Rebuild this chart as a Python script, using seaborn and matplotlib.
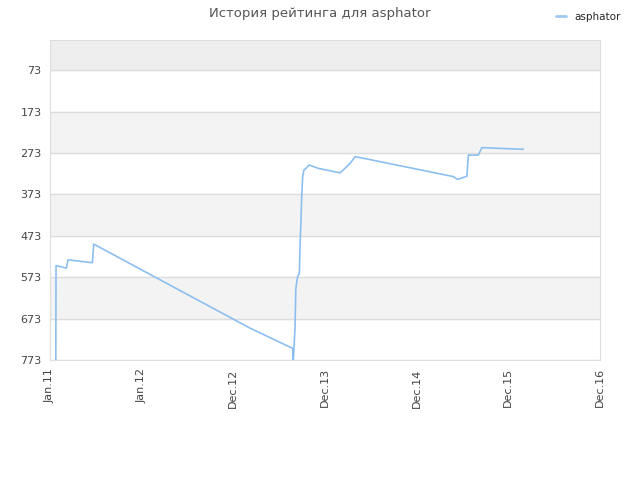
import matplotlib
matplotlib.use('Agg')
import matplotlib.pyplot as plt
import seaborn as sns
import pandas as pd
from matplotlib.lines import Line2D

# Daten
dates = ['2011-01-24', '2011-01-25', '2011-03-07', '2011-03-13', '2011-06-17',
         '2011-06-22', '2012-03-08', '2013-02-25', '2013-08-12',
         '2013-08-13', '2013-08-21', '2013-08-24', '2013-08-31', '2013-09-07',
         '2013-09-10', '2013-09-13', '2013-09-16', '2013-09-20', '2013-09-25',
         '2013-10-03', '2013-10-15', '2013-11-20', '2014-02-14', '2014-03-05',
         '2014-03-25', '2014-04-14', '2014-06-04', '2015-05-05', '2015-05-21',
         '2015-06-27', '2015-07-03', '2015-08-11', '2015-08-25', '2015-11-11',
         '2016-02-04']
rating = [800, 545, 551, 531, 538,
          493, 579, 696, 745,
          790, 693, 600, 572, 564,
          487, 443, 379, 330, 314,
          310, 302, 310, 321, 310,
          298, 282, 288, 330, 337,
          329, 278, 278, 260, 262,
          264]

y_ticks = [73, 173, 273, 373, 473, 573, 673, 773]
x_labels = ['Jan.11', 'Jan.12', 'Dec.12', 'Dec.13', 'Dec.14', 'Dec.15', 'Dec.16']

df = pd.DataFrame({'datum': pd.to_datetime(dates), 'rating': rating, 'spieler': 'asphator'})

sns.set_style('white')
fig = plt.figure(figsize=(6.4, 4.8), dpi=100)
ax = fig.add_axes([0.078, 0.25, 0.8595, 0.6667])

# Hintergrundstreifen
ax.axhspan(0, 73, color='#eeeeee', zorder=0)
for lo in [173, 373, 573]:
    ax.axhspan(lo, lo + 100, color='#f3f3f3', zorder=0)

sns.lineplot(data=df, x='datum', y='rating', hue='spieler', palette=['#8cbff0'],
             linewidth=1.2, ax=ax, legend=False, zorder=3)

ax.set_ylim(773, 0)
ax.set_yticks(y_ticks)
ax.set_yticklabels([str(t) for t in y_ticks], fontsize=8, color='#444444')
ax.yaxis.grid(True, color='#dddddd', linewidth=1)
ax.set_axisbelow(True)

x_start = pd.Timestamp('2011-01-01')
x_end = pd.Timestamp('2016-12-01')
ax.set_xlim(x_start, x_end)
ax.set_xticks(pd.date_range(x_start, x_end, periods=len(x_labels)))
ax.set_xticklabels(x_labels, rotation=90, fontsize=8, color='#444444')
ax.tick_params(length=0, pad=6)
ax.set_xlabel('')
ax.set_ylabel('')

for s in ax.spines.values():
    s.set_color('#dddddd')

fig.suptitle('История рейтинга для asphator', fontsize=9.5, color='#555555', y=0.985)

fig.legend([Line2D([0], [0], color='#9ec9f2', linewidth=2)], ['asphator'],
           loc='upper right', bbox_to_anchor=(0.985, 0.995), frameon=False,
           fontsize=7.5, handlelength=1.0)

plt.savefig('out.png', dpi=100)
